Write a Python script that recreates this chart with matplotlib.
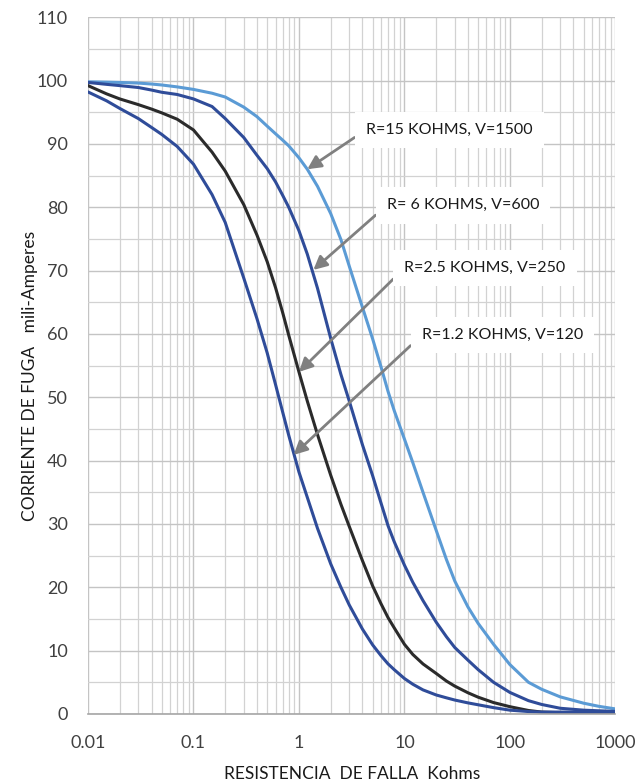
import matplotlib
matplotlib.use("Agg")
from matplotlib import pyplot as plt
from matplotlib.ticker import FixedLocator, NullFormatter
import numpy as np

plt.rcParams['font.family'] = ['Lato', 'DejaVu Sans']

# fault resistance (kOhm) where the curves were read
rf = [0.01, 0.015, 0.02, 0.03, 0.04, 0.05, 0.07, 0.1, 0.15, 0.2, 0.3, 0.4, 0.5, 0.6, 0.7, 0.8,
      1, 1.2, 1.5, 2, 2.5, 3, 4, 5, 6, 7, 8, 10, 12, 15, 20, 25, 30, 40, 50, 70,
      100, 150, 200, 300, 500, 700, 1000]

# leakage current (mA) per curve
i_15k = [99.8, 99.75, 99.7, 99.6, 99.45, 99.3, 99.0, 98.6, 98.0, 97.4, 95.8, 94.3, 92.8, 91.6, 90.6, 89.7,
         87.8, 86.0, 83.3, 79.0, 74.9, 70.7, 64.2, 59.2, 54.8, 50.9, 47.9, 43.4, 39.7, 35.0, 29.0, 24.4, 21.0, 16.9, 14.3, 11.0,
         7.8, 5.0, 3.9, 2.7, 1.7, 1.2, 0.8]
i_6k = [99.7, 99.4, 99.2, 98.9, 98.5, 98.15, 97.8, 97.1, 95.9, 94.0, 91.0, 88.2, 86.1, 84.0, 81.9, 80.0,
        76.3, 72.6, 67.2, 59.3, 53.6, 49.4, 42.5, 37.6, 33.3, 29.7, 27.2, 23.5, 20.8, 17.9, 14.5, 12.2, 10.5, 8.5, 7.0, 5.0,
        3.4, 2.1, 1.5, 0.9, 0.6, 0.5, 0.4]
i_2k5 = [99.2, 97.9, 97.1, 96.2, 95.5, 94.9, 93.9, 92.2, 88.7, 85.7, 80.4, 75.6, 71.4, 67.3, 63.4, 59.8,
         54.0, 49.4, 44.1, 37.7, 33.1, 29.6, 24.2, 20.2, 17.4, 15.2, 13.6, 11.0, 9.4, 7.9, 6.4, 5.2, 4.4, 3.35, 2.65, 1.8,
         1.15, 0.55, 0.3, 0.2, 0.2, 0.2, 0.2]
i_1k2 = [98.2, 96.8, 95.6, 94.0, 92.6, 91.5, 89.6, 86.8, 82.0, 77.6, 68.8, 62.4, 57.0, 52.0, 47.7, 44.0,
         38.2, 34.2, 29.3, 23.7, 20.0, 17.2, 13.4, 10.9, 9.2, 7.9, 7.0, 5.6, 4.7, 3.8, 3.0, 2.55, 2.2, 1.75, 1.45, 1.0,
         0.6, 0.38, 0.3, 0.3, 0.3, 0.3, 0.3]

labels = ['R=15 KOHMS, V=1500', 'R= 6 KOHMS, V=600', 'R=2.5 KOHMS, V=250', 'R=1.2 KOHMS, V=120']
yticks = [0, 10, 20, 30, 40, 50, 60, 70, 80, 90, 100, 110]
xticks = [0.01, 0.1, 1, 10, 100, 1000]
xtick_labels = ['0.01', '0.1', '1', '10', '100', '1000']

fig = plt.figure(figsize=(6.4, 7.82), dpi=100)
ax = fig.add_axes([0.1375, 0.087, 0.824, 0.891])

ax.set_xscale('log')
ax.set_xlim(0.01, 1000)
ax.set_ylim(0, 110)

# grid: decades + 2..9 subdivisions, every 10 and every 5 on y
minor_x = [m * 10.0 ** e for e in range(-2, 3) for m in range(2, 10)]
ax.xaxis.set_major_locator(FixedLocator(xticks))
ax.xaxis.set_minor_locator(FixedLocator(minor_x))
ax.xaxis.set_minor_formatter(NullFormatter())
ax.set_xticklabels(xtick_labels)
ax.set_yticks(yticks)
ax.set_yticks(np.arange(5, 110, 10), minor=True)
ax.grid(True, which='major', color='#c4c4c4', lw=1.0)
ax.grid(True, which='minor', color='#d2d2d2', lw=0.9)
ax.set_axisbelow(True)
for s in ['top', 'right', 'left']:
    ax.spines[s].set_visible(False)
ax.spines['bottom'].set_color('#a6a6a6')
ax.spines['bottom'].set_linewidth(1.2)
ax.tick_params(which='both', length=0, labelsize=13, labelcolor='#404040')
ax.tick_params(axis='y', which='major', pad=14.5)
ax.tick_params(axis='x', which='major', pad=15)

ax.plot(rf, i_15k, color='#5b9bd5', lw=2.2)
ax.plot(rf, i_6k, color='#2f4c99', lw=2.2)
ax.plot(rf, i_2k5, color='#2b2b2b', lw=2.2)
ax.plot(rf, i_1k2, color='#2f4c99', lw=2.2)

# callouts: (text x, text y, arrow tip x, arrow tip y)
callouts = [(4.3, 92.2, 1.2, 86.0), (6.8, 80.3, 1.37, 70.1),
            (10.0, 70.4, 1.0, 54.0), (14.6, 59.8, 0.89, 40.9)]
for lab, (tx, ty, hx, hy) in zip(labels, callouts):
    ax.annotate(lab, xy=(hx, hy), xytext=(tx, ty), fontsize=11.5, color='#1a1a1a',
                ha='left', va='center',
                bbox=dict(boxstyle='square,pad=0.7', fc='white', ec='none'),
                arrowprops=dict(arrowstyle='-|>,head_length=0.7,head_width=0.35',
                                color='#808080', lw=2, shrinkA=0, shrinkB=0,
                                relpos=(0, 0.5)))

ax.set_ylabel('CORRIENTE DE FUGA   mili-Amperes', fontsize=12.5, color='#1a1a1a')
ax.yaxis.set_label_coords(-0.095, 0.485)
ax.set_xlabel('RESISTENCIA  DE FALLA  Kohms', fontsize=12.5, color='#1a1a1a')
ax.xaxis.set_label_coords(0.5, -0.074)

fig.savefig('out.png', dpi=100)
